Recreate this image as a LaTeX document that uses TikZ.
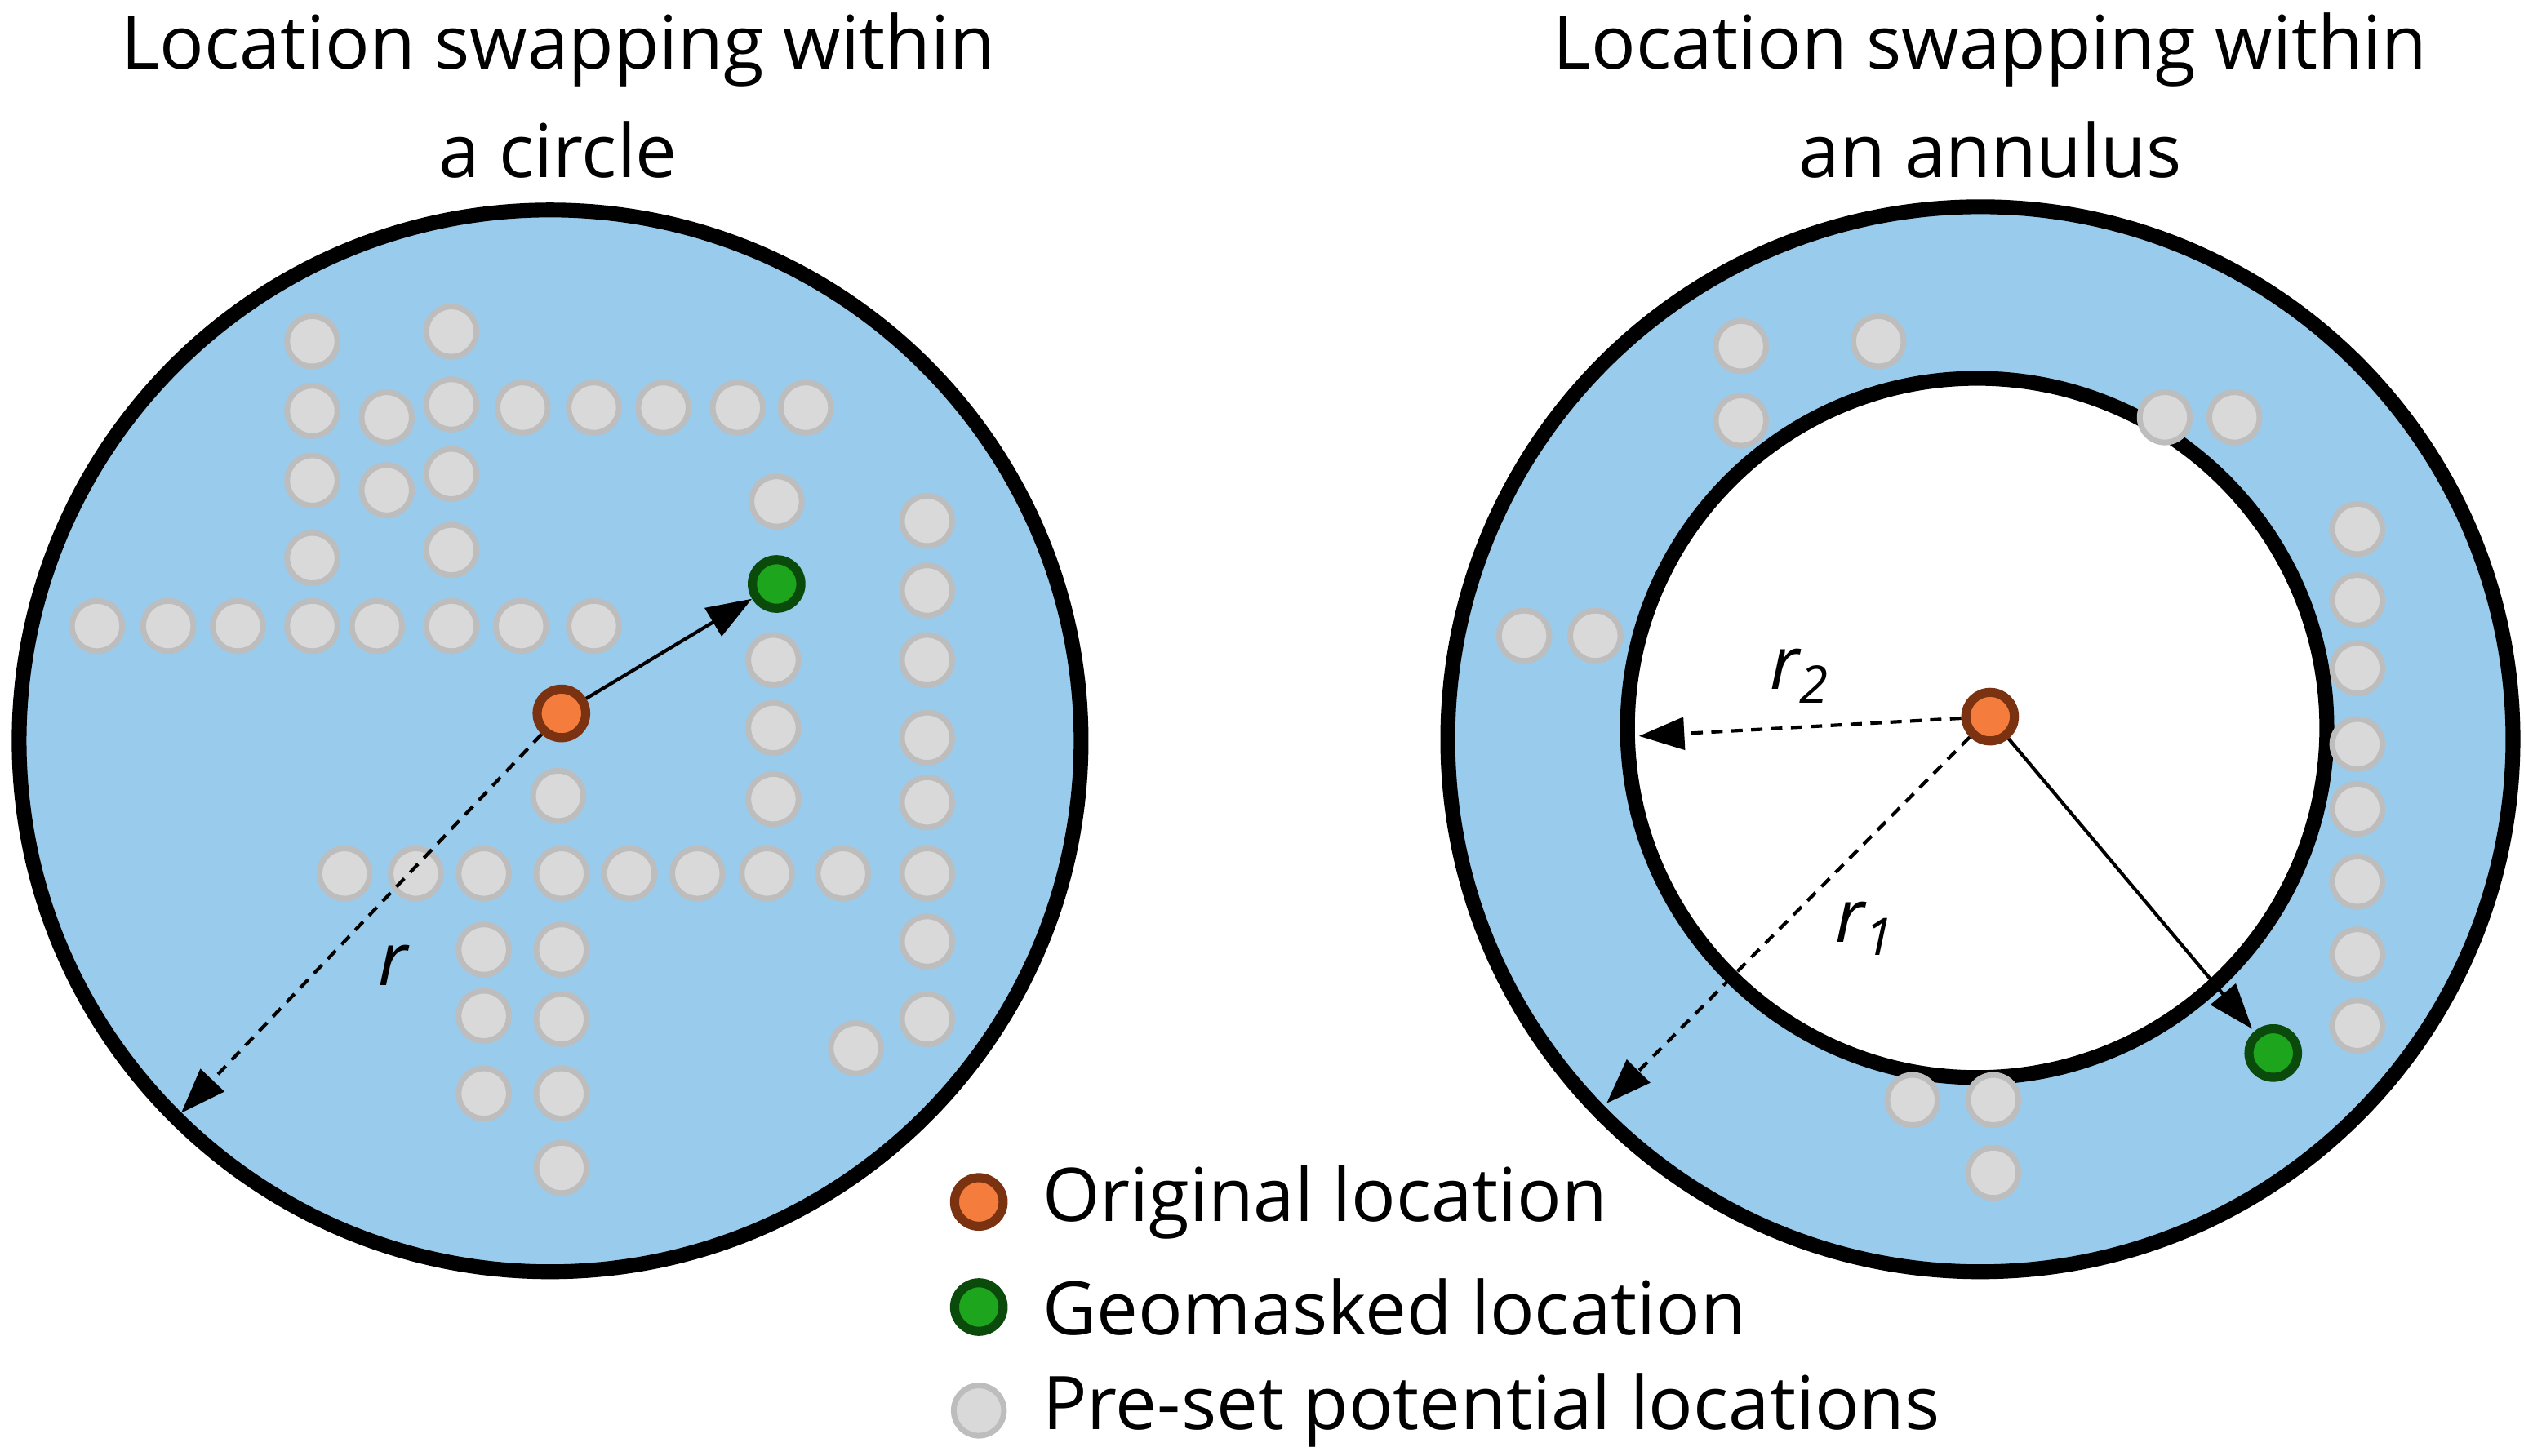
\documentclass[tikz,border=0pt]{standalone}
\usepackage{fontspec}
\setmainfont{Open Sans}
\usetikzlibrary{arrows.meta}
\definecolor{disk}{HTML}{99CBEC}
\definecolor{org}{HTML}{F47C3C}
\definecolor{orgd}{HTML}{7A3210}
\definecolor{grn}{HTML}{1EA51E}
\definecolor{grnd}{HTML}{0A4A0A}
\definecolor{gdot}{HTML}{D9D9D9}
\definecolor{gbord}{HTML}{BDBDBD}
\begin{document}
\begin{tikzpicture}[x=0.01cm,y=-0.01cm,
  pot/.style={circle,fill=gdot,draw=gbord,line width=1pt,minimum size=0.31cm,inner sep=0pt},
  orig/.style={circle,fill=org,draw=orgd,line width=1.6pt,minimum size=0.3cm,inner sep=0pt},
  geo/.style={circle,fill=grn,draw=grnd,line width=1.6pt,minimum size=0.3cm,inner sep=0pt},
  ring/.style={line width=2.6pt,draw=black},
  txt/.style={font=\fontsize{13pt}{19pt}\selectfont,align=center},
  arr/.style={-{Triangle[length=0.28cm,width=0.2cm]},line width=0.6pt},
  darr/.style={arr,dashed,dash pattern=on 2pt off 1.5pt}]
\useasboundingbox (0,0) rectangle (1560,900);
% titles
\node[txt] (t1) at (345,59) {Location swapping within\\a circle};
\node[txt] (t2) at (1230,59) {Location swapping within\\an annulus};
% left disk
\fill[disk] (340,458) circle[radius=3.28cm];
\draw[ring] (340,458) circle[radius=3.28cm];
% right annulus
\fill[disk,even odd rule] (1224,457) circle[radius=3.29cm] (1222,450) circle[radius=2.16cm];
\draw[ring] (1224,457) circle[radius=3.29cm];
\draw[ring] (1222,450) circle[radius=2.16cm];
% left dots
\foreach \x/\y [count=\i] in {193/211,279/205,193/254,239/258,279/250,323/252,367/252,410/252,456/252,498/252,
193/297,239/303,279/293,480/310,573/322,193/345,279/340,573/365,
60/387,104/387,147/387,193/387,233/387,279/387,322/387,367/387,
478/408,573/408,478/450,573/456,345/492,478/494,573/496,
213/540,257/540,299/540,347/540,389/540,431/540,474/540,521/540,573/540,
299/587,347/587,573/582,299/628,347/630,573/630,529/648,299/676,347/676,347/722}
  \node[pot] (l\i) at (\x,\y) {};
% right dots
\foreach \x/\y [count=\i] in {1076/214,1161/211,1076/260,1338/258,1381/258,
1457/327,1457/371,1457/413,1457/460,1457/500,1457/545,1457/590,1457/634,
942/393,986/393,1182/680,1232/680,1232/725}
  \node[pot] (r\i) at (\x,\y) {};
% left arrows
\coordinate (le) at (112,688);
\node[orig] (o1) at (347,441) {};
\node[geo] (g1) at (480,361) {};
\draw[arr] (o1) -- (g1);
\draw[darr] (o1) -- (le);
\node[txt,font=\fontsize{13pt}{15pt}\selectfont\itshape] (rl) at (243,597) {r};
% right arrows
\node[orig] (o2) at (1230,443) {};
\node[geo] (g2) at (1405,651) {};
\coordinate (re2) at (1013,455);
\coordinate (re1) at (993,682);
\coordinate (rg) at (1392,636);
\draw[arr] (o2) -- (rg);
\draw[darr] (o2) -- (re2);
\draw[darr] (o2) -- (re1);
\node[font=\fontsize{13pt}{15pt}\selectfont\itshape] (r2l) at (1113,418) {r\textsubscript{2}};
\node[font=\fontsize{13pt}{15pt}\selectfont\itshape] (r1l) at (1153,574) {r\textsubscript{1}};
% legend
\node[orig] (k1) at (605,743) {};
\node[geo] (k2) at (605,808) {};
\node[pot] (k3) at (605,872) {};
\node[txt,anchor=west] (k1t) at (632,743) {Original location};
\node[txt,anchor=west] (k2t) at (632,808) {Geomasked location};
\node[txt,anchor=west] (k3t) at (632,872) {Pre-set potential locations};
\end{tikzpicture}
\end{document}
